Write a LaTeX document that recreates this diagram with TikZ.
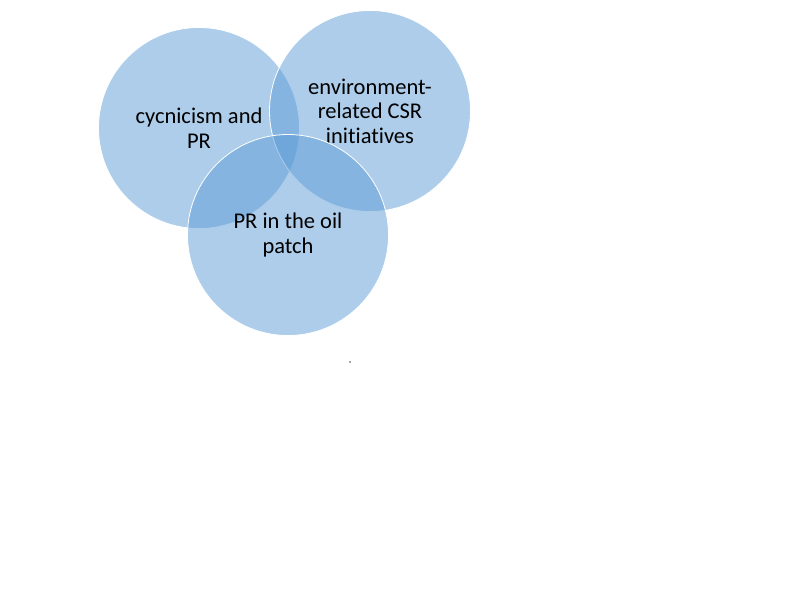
\documentclass[tikz,border=0pt]{standalone}
\usepackage{fontspec}
\setmainfont{Carlito}[Ligatures=NoCommon]

\begin{document}
\begin{tikzpicture}[x=1pt, y=-1pt]
            \tikzset{
                venn/.style={circle, minimum size=201pt, inner sep=0pt,
                    fill={rgb,255:red,91;green,155;blue,213}, fill opacity=0.5,
                    text opacity=1, draw=white, line width=0.8pt,
                    align=center, font=\fontsize{22.5}{24.5}\selectfont}
            }
            \useasboundingbox (0,0) rectangle (800,600);
            % Ba vòng tròn
            \node[venn] (cynic) at (199,128) {cycnicism and\\PR};
            \node[venn] (envir) at (370,111) {environment-\\related CSR\\initiatives};
            \node[venn] (oilpr) at (288,235) {PR in the oil\\patch};
            % Chấm nhỏ
            \fill[black!70] (350,362) circle (0.9pt) coordinate (dot);
        \end{tikzpicture}
\end{document}
